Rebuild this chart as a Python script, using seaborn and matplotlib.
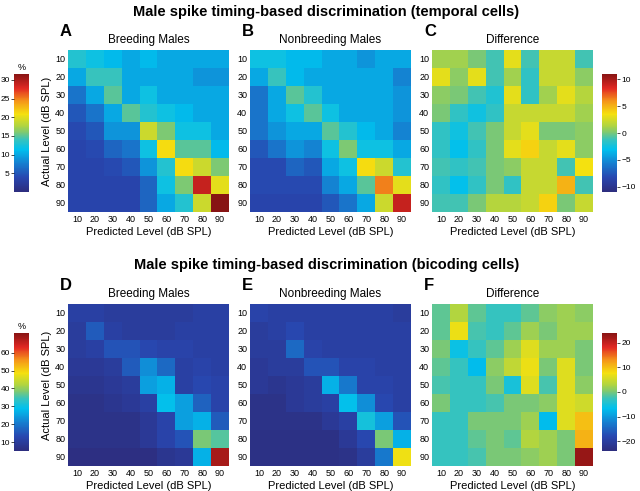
import numpy as np
import pandas as pd
import seaborn as sns
import matplotlib.pyplot as plt
from matplotlib.colors import LinearSegmentedColormap

levels = [10, 20, 30, 40, 50, 60, 70, 80, 90]

# temporal cells, breeding males (%)
temporal_breeding = [
    [13, 12, 11, 10, 11, 10, 10, 10, 10],
    [10, 14, 14, 10, 10, 10, 10, 9, 9],
    [7, 10, 15, 10, 12, 10, 10, 10, 10],
    [5, 7, 10, 15, 13, 12, 11, 10, 10],
    [4, 5, 9, 9, 19, 16, 12, 12, 10],
    [3.5, 4, 6, 7, 12, 21, 15, 15, 11],
    [3.5, 3.5, 4, 5, 9, 13, 21, 19, 16],
    [3.5, 3.5, 3.5, 3.5, 6, 12, 16, 29, 20],
    [3.5, 3.5, 3.5, 3.5, 6, 10, 13, 19, 31.5],
]
temporal_nonbreeding = [
    [12, 12, 11, 11, 10, 10, 9, 10, 10],
    [10, 14, 11, 10, 10, 10, 10, 10, 8],
    [7, 10, 15, 13, 10, 10, 10, 10, 9],
    [7, 10, 12, 15, 12, 10, 10, 10, 9],
    [7, 9, 10, 10, 15, 13, 11, 10, 8],
    [5, 7, 9, 8, 12, 16, 12, 12, 10],
    [4, 4, 6, 5, 10, 12, 21, 19, 13],
    [4, 4, 4, 4, 8, 10, 15, 25, 20],
    [3.5, 3.5, 3.5, 3.5, 5, 7, 10, 19, 29],
]
temporal_diff = [
    [1, 1, 0, -1, 3, -1, 2, 2, -1],
    [3, 0.5, 3, -1, 1, -1.5, 2, 2, 0.5],
    [0.5, 0, -1, -2, 3, -1.5, 1, 3, 1.5],
    [0, -1.5, -2.5, -1.5, 2, 2, 2, 2, 1],
    [-1.5, -2.5, -1, 0, 2, 3, 0, 0, 0.5],
    [-1.5, -3, -1.5, 0, 3, 4, 2, 3, 0.5],
    [-1, -1.5, -1, 0, 0.5, 2, 2, -1, 3.5],
    [-1.5, -3, -1.5, 0, -1.5, 2, 2, 5, -1],
    [-1, -1, 0, 1.5, 1.5, 2, 4, 0, 2],
]

# bicoding cells
bicoding_breeding = [
    [11, 11, 10, 10, 10, 10, 10, 11, 11],
    [10, 16, 11, 10, 10, 10, 11, 11, 11],
    [10, 11, 15, 15, 13, 12, 12, 11, 11],
    [9, 9, 10, 16, 23, 18, 11, 12, 11],
    [8, 8, 9, 10, 25, 27, 11, 13, 12],
    [7, 7, 8, 9, 11, 29, 25, 17, 12],
    [7, 7, 7, 7, 9, 12, 25, 27, 16],
    [7, 7, 7, 7, 9, 12, 15, 38, 36],
    [6, 6, 6, 6, 6, 8, 9, 27, 68],
]
bicoding_nonbreeding = [
    [12, 11, 11, 11, 11, 11, 11, 11, 10],
    [10, 11, 13, 11, 11, 11, 11, 11, 11],
    [10, 10, 18, 12, 11, 11, 11, 11, 11],
    [9, 10, 10, 15, 15, 12, 12, 11, 11],
    [9, 8, 9, 10, 27, 20, 12, 12, 11],
    [7, 7, 9, 10, 11, 29, 23, 13, 11],
    [7, 7, 7, 7, 9, 11, 31, 25, 15],
    [6.5, 6.5, 6.5, 6.5, 6.5, 9, 13, 38, 27],
    [6.5, 6.5, 6.5, 6.5, 6.5, 7, 10, 20, 48],
]
bicoding_diff = [
    [-1, 3, -1, -3, -3, -1, 1, 2, 1],
    [-1, 7, -2, -3, -1, 2, 0, 2, 2],
    [0, -6, -3, -1, 2, 6, 2, 2, 0],
    [-1, -3, -7, 1, 4, 7, 0, 6, 0],
    [-2, -3, -3, 0, -5, 6, -2, 6, 1],
    [0, -3, -3, -2, 0, 0, 1, 6, 5],
    [-3, -3, 0, 0, 0, 2, -7, 6, 10],
    [-3, -3, -1, 0, -1, 3, 2, 0, 11],
    [-3, -3, -2, 0, 0, 1, 2, 0, 23],
]

# jet-like map, a bit washed out like the printed figure
jet_soft = LinearSegmentedColormap.from_list('jet_soft', [
    (0.00, (45/255, 45/255, 125/255)),
    (0.12, (40/255, 70/255, 175/255)),
    (0.25, (20/255, 130/255, 210/255)),
    (0.36, (0/255, 192/255, 238/255)),
    (0.45, (60/255, 195/255, 185/255)),
    (0.50, (120/255, 200/255, 120/255)),
    (0.56, (175/255, 212/255, 65/255)),
    (0.66, (245/255, 225/255, 15/255)),
    (0.77, (245/255, 150/255, 25/255)),
    (0.88, (225/255, 40/255, 35/255)),
    (1.00, (135/255, 20/255, 20/255)),
])

plt.rcParams['font.family'] = ['Liberation Sans', 'DejaVu Sans']

W, H = 640, 491
fig = plt.figure(figsize=(W / 100, H / 100), dpi=100)


def px_axes(x, y, w, h):
    # pixel box (from top-left) -> figure axes
    return fig.add_axes([x / W, 1 - (y + h) / H, w / W, h / H])


def draw(mat, x, y, title, letter, cax, vmin, vmax, ylab, cticks, clabel):
    ax = px_axes(x, y, 161, 162)
    df = pd.DataFrame(mat, index=levels, columns=levels)
    sns.heatmap(df, ax=ax, cmap=jet_soft, vmin=vmin, vmax=vmax, cbar=cax is not None,
                cbar_ax=cax, linewidths=0)
    ax.set_title(title, fontsize=8.5, pad=5)
    ax.set_xlabel('Predicted Level (dB SPL)', fontsize=8, labelpad=2)
    if ylab:
        ax.set_ylabel('Actual Level (dB SPL)', fontsize=8, labelpad=2)
    else:
        ax.set_ylabel('')
    ax.tick_params(labelsize=6.5, length=0, pad=2)
    ax.set_yticklabels(levels, rotation=0)
    ax.set_xticklabels(levels, rotation=0)
    fig.text((x - 8) / W, 1 - (y - 18) / H, letter, fontsize=12, fontweight='bold', va='center')
    if cax is not None:
        cax.tick_params(labelsize=6, length=2, width=0.5, pad=1)
        cax.set_yticks(cticks)
        if clabel:
            cax.set_title('%', fontsize=6.5, pad=3)


fig.text(0.51, 1 - 12 / H, 'Male spike timing-based discrimination (temporal cells)',
         ha='center', va='center', fontsize=10.5, fontweight='bold')
fig.text(0.51, 1 - 265 / H, 'Male spike timing-based discrimination (bicoding cells)',
         ha='center', va='center', fontsize=10.5, fontweight='bold')

cax1 = px_axes(14, 74, 15, 118)
cax2 = px_axes(602, 74, 15, 118)
cax3 = px_axes(14, 333, 15, 118)
cax4 = px_axes(602, 333, 15, 118)

draw(temporal_breeding, 68, 50, 'Breeding Males', 'A', cax1, 0, 31.6, True, [5, 10, 15, 20, 25, 30], True)
draw(temporal_nonbreeding, 250, 50, 'Nonbreeding Males', 'B', None, 0, 31.6, False, None, False)
draw(temporal_diff, 432, 50, 'Difference', 'C', cax2, -11, 11, False, [-10, -5, 0, 5, 10], False)
draw(bicoding_breeding, 68, 304, 'Breeding Males', 'D', cax3, 5, 71, True, [10, 20, 30, 40, 50, 60], True)
draw(bicoding_nonbreeding, 250, 304, 'Nonbreeding Males', 'E', None, 5, 71, False, None, False)
draw(bicoding_diff, 432, 304, 'Difference', 'F', cax4, -24, 24, False, [-20, -10, 0, 10, 20], False)

# left colorbars carry their ticks on the left
for c in (cax1, cax3):
    c.yaxis.set_ticks_position('left')

fig.savefig('out.png', dpi=100)
